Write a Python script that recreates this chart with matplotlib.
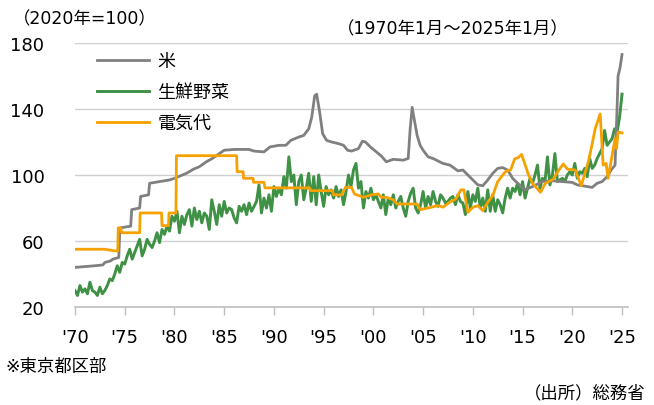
#!/usr/bin/env python3
"""
Tokyo ward-area CPI: rice, fresh vegetables, electricity (2020 = 100)
Monthly index 1970-01 .. 2025-01, values read off the published chart.
"""

import matplotlib
matplotlib.use('Agg')
import matplotlib.pyplot as plt

plt.rcParams['font.family'] = ['DejaVu Sans', 'Noto Sans CJK JP']

# --- data -------------------------------------------------------------
# rice (米): (decimal year, index)
rice_years = [1970.0, 1971.0, 1972.0, 1972.8, 1973.0, 1973.6, 1973.8, 1974.4, 1974.5, 1974.6,
              1975.6, 1975.7, 1976.5, 1976.6, 1977.4, 1977.5, 1978.5, 1979.5, 1980.0, 1980.6,
              1981.2, 1981.9, 1982.5, 1983.2, 1983.8, 1984.4, 1985.0, 1986.0, 1987.5, 1988.0,
              1989.0, 1989.6, 1990.5, 1991.2, 1991.7, 1992.5, 1993.0, 1993.5, 1993.8, 1994.1,
              1994.3, 1994.6, 1994.9, 1995.3, 1995.8, 1996.5, 1997.0, 1997.4, 1997.8, 1998.5,
              1998.9, 1999.2, 1999.7, 2000.3, 2000.8, 2001.3, 2002.0, 2003.0, 2003.5, 2003.7,
              2003.9, 2004.1, 2004.4, 2004.7, 2005.0, 2005.5, 2006.0, 2007.0, 2007.7, 2008.5,
              2009.0, 2009.5, 2010.0, 2010.5, 2011.0, 2011.5, 2012.0, 2012.5, 2013.0, 2013.5,
              2014.0, 2014.5, 2015.2, 2016.0, 2017.0, 2018.0, 2019.0, 2020.0, 2020.5, 2021.5,
              2022.0, 2022.5, 2023.0, 2023.5, 2023.9, 2024.3, 2024.5, 2024.6, 2024.8, 2025.0]
rice_values = [44, 44.5, 45, 45.5, 47, 48, 49, 50, 66, 68,
               69, 79, 80, 87, 88, 95, 96, 97, 98, 99.5,
               101, 103.5, 105, 108, 110, 112.5, 115, 115.5, 115.5, 114.5,
               114, 117, 118, 118, 121, 123, 124, 128, 135, 148,
               149, 138, 125, 121, 120, 119, 118, 115, 114.5, 116,
               120.5, 120, 117, 114, 111.5, 108, 109.5, 109, 110, 128,
               141, 134, 124, 118, 115, 111, 110, 107, 106, 102.5,
               103, 100, 97, 94, 93.5, 97, 101, 104, 104.5, 103,
               98, 95, 91, 93, 96, 96.5, 96, 95.5, 94, 93,
               92.5, 95, 96, 99, 103, 106, 140, 160, 165, 173]

# electricity (電気代): (decimal year, index)
elec_years = [1970.0, 1973.0, 1974.0, 1974.3, 1974.35, 1974.6, 1974.7, 1976.5, 1976.55, 1978.7,
              1978.75, 1979.4, 1979.45, 1980.15, 1980.2, 1986.25, 1986.3, 1986.9, 1986.95, 1987.9,
              1987.95, 1989.0, 1989.1, 1993.6, 1993.7, 1995.9, 1996.0, 1996.8, 1997.2, 1997.8,
              1998.1, 1999.0, 1999.8, 2000.5, 2000.8, 2001.3, 2002.0, 2002.4, 2004.4, 2004.7,
              2005.5, 2006.5, 2007.0, 2007.7, 2008.3, 2008.8, 2009.1, 2009.5, 2010.0, 2010.5,
              2011.0, 2011.5, 2012.0, 2012.5, 2013.0, 2013.4, 2013.8, 2014.2, 2014.6, 2014.9,
              2015.1, 2015.6, 2016.0, 2016.8, 2017.3, 2017.8, 2018.1, 2018.6, 2019.1, 2019.5,
              2020.3, 2020.9, 2021.2, 2021.6, 2021.9, 2022.3, 2022.8, 2022.95, 2023.1, 2023.4,
              2023.6, 2023.8, 2024.3, 2024.45, 2024.6, 2025.0]
elec_values = [55, 55, 54, 54, 68, 68, 65, 65, 77, 77,
               69.3, 69.3, 77, 77, 111.7, 111.7, 102, 102, 98, 98,
               95.6, 95.6, 92.2, 92.2, 90.5, 90.5, 88, 88, 92.5, 92.5,
               88.5, 86.5, 88, 88.5, 86.5, 86.5, 85, 82.4, 82.4, 79,
               80, 81.5, 80.5, 83.6, 85.5, 91, 91, 77.4, 80.4, 81.4,
               78.4, 83.5, 87.5, 96, 100, 102.6, 103, 109.7, 110.7, 112.5,
               109, 100, 95, 89.5, 95, 96.5, 97.6, 102.6, 106.7, 103.6,
               103, 93.5, 99.6, 107.7, 116, 128, 137, 122, 106, 107,
               98, 105, 122, 116, 126, 125.5]

# fresh vegetables (生鮮野菜): quarterly readings (Jan, Apr, Jul, Oct) from 1970
veg_values = [
    30, 27, 33, 29,   31, 28, 35, 30,   29, 27, 32, 28,   30, 33, 37, 36,      # 1970-73
    40, 45, 41, 47,   46, 51, 55, 49,   53, 57, 61, 51,   55, 61, 58, 56,      # 1974-77
    60, 65, 59, 67,   64, 69, 66, 75,   72, 78, 65, 75,   70, 76, 79, 69,      # 1978-81
    80, 73, 78, 71,   77, 75, 67, 85,   78, 70, 82, 75,   84, 77, 80, 79,      # 1982-85
    74, 71, 81, 78,   82, 76, 83, 78,   81, 84, 94, 77,   86, 80, 88, 78,      # 1986-89
    93, 87, 92, 88,   99, 92, 111, 96,  100, 82, 96, 100, 85, 92, 101, 84,     # 1990-93
    99, 82, 100, 90,  81, 93, 88, 91,   86, 93, 87, 91,   82, 90, 100, 93,     # 1994-97
    103, 107, 92, 96, 80, 90, 86, 92,   85, 88, 84, 80,   88, 76, 86, 82,      # 1998-01
    88, 80, 84, 87,   80, 75, 84, 89,   92, 80, 77, 82,   90, 80, 87, 82,      # 2002-05
    90, 84, 81, 88,   86, 83, 84, 86,   87, 82, 88, 84,   83, 76, 90, 80,      # 2006-09
    88, 84, 92, 80,   86, 78, 91, 78,   88, 78, 85, 82,   77, 86, 92, 86,      # 2010-13
    92, 90, 95, 88,   96, 86, 92, 98,   95, 100, 106, 92, 98, 96, 111, 94,     # 2014-17
    100, 113, 96, 97, 98, 96, 100, 102, 100, 107, 98, 102, 101, 104, 99, 110,  # 2018-21
    104, 106, 110, 113, 116, 127, 118, 120, 122, 128, 126, 135,                # 2022-24
    149,                                                                       # 2025-01
]
veg_years = [1970 + 0.25 * i for i in range(len(veg_values))]

tick_years = list(range(1970, 2026, 5))
tick_labels = ["'%02d" % (y % 100) for y in tick_years]

# --- plot -------------------------------------------------------------
GRAY = '#808080'
GREEN = '#3f9146'
ORANGE = '#f5a100'

fig = plt.figure(figsize=(6.54, 4.06), dpi=100)
ax = fig.add_axes([75 / 654, 1 - 308 / 406, 553 / 654, 264 / 406])

ax.plot(rice_years, rice_values, color=GRAY, lw=2.0, label='米', zorder=3)
ax.plot(veg_years, veg_values, color=GREEN, lw=2.1, label='生鮮野菜', zorder=2)
ax.plot(elec_years, elec_values, color=ORANGE, lw=2.0, label='電気代', zorder=4)

ax.set_xlim(1970, 2025.6)
ax.set_ylim(20, 180)
ax.set_yticks([20, 60, 100, 140, 180])
ax.set_xticks(tick_years)
ax.set_xticklabels(tick_labels)
ax.tick_params(axis='y', length=0, pad=22, labelsize=13)
ax.tick_params(axis='x', direction='out', length=6, width=1, color='#bfbfbf',
               pad=9, labelsize=13)
ax.grid(True, axis='y', color='#d0d0d0', lw=1)
ax.set_axisbelow(True)
for side in ('left', 'right', 'top'):
    ax.spines[side].set_visible(False)
ax.spines['bottom'].set_color('#bfbfbf')
ax.spines['bottom'].set_linewidth(1.2)

ax.legend(loc='upper left', bbox_to_anchor=(97 / 654, 1 - 53 / 406),
          bbox_transform=fig.transFigure, frameon=False, fontsize=13,
          handlelength=2.9, handletextpad=0.45, labelspacing=0.72,
          borderpad=0, borderaxespad=0)

fig.text(13 / 654, 1 - 19 / 406, '（2020年=100）', fontsize=12.5, va='center', ha='left')
fig.text(337 / 654, 1 - 29 / 406, '（1970年1月～2025年1月）', fontsize=12.5,
         va='center', ha='left')
fig.text(5 / 654, 1 - 367 / 406, '※東京都区部', fontsize=12.5, va='center', ha='left')
fig.text(646 / 654, 1 - 393 / 406, '（出所）総務省', fontsize=12.5, va='center', ha='right')

fig.savefig('out.png', dpi=100)
